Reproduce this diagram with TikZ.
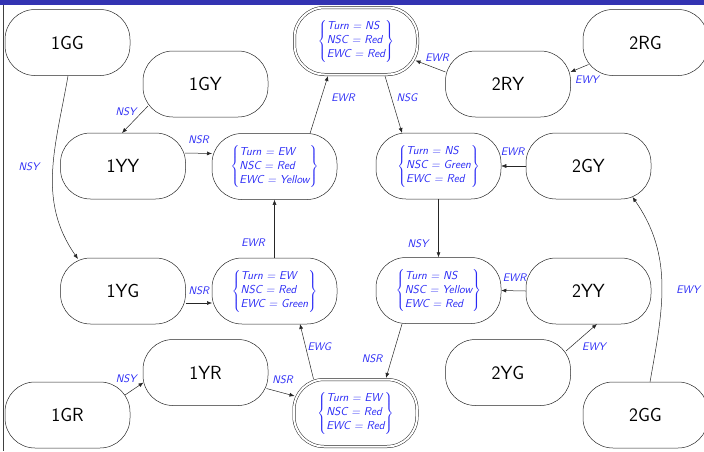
\documentclass[tikz,border=0pt]{standalone}
\usepackage{fontspec}
\usetikzlibrary{calc,arrows.meta}
\definecolor{tblue}{RGB}{40,40,245}
\definecolor{barblue}{RGB}{51,51,178}
\newcommand{\stv}[3]{$\left\{\begin{tabular}{@{}l@{}}Turn = #1\\NSC = #2\\EWC = #3\end{tabular}\right\}$}
\tikzset{
 st/.style={draw=black!85, line width=0.5pt, rounded corners=30pt, minimum width=125pt, minimum height=66pt, inner sep=0pt, font=\sffamily\fontsize{19}{22}\selectfont},
 cst/.style={st, text=tblue, font=\sffamily\itshape\fontsize{11.5}{13.8}\selectfont},
 dst/.style={cst, double, double distance=2pt, minimum width=123pt, minimum height=67pt, rounded corners=30pt},
 tr/.style={draw=black!85, line width=0.5pt, -{Latex[length=5pt,width=4pt]}},
 lbl/.style={text=tblue, font=\sffamily\itshape\fontsize{11}{13}\selectfont, inner sep=0pt},
}
\begin{document}
\begin{tikzpicture}[x=1pt,y=1pt]
\useasboundingbox (0,0) rectangle (704,-451);
\fill[barblue] (0,0) rectangle (704,-5);
\draw[black!75, line width=0.8pt] (3.5,-5) -- (3.5,-451);
% states
\node[st] (1GG) at (67.5,-42.5) {1GG};
\node[st] (1GY) at (205.5,-84) {1GY};
\node[st] (1YY) at (123,-166) {1YY};
\node[st] (1YG) at (123,-291) {1YG};
\node[st] (1YR) at (205.5,-372.5) {1YR};
\node[st] (1GR) at (67.5,-415) {1GR};
\node[dst] (ns1) at (356,-41) {\stv{NS}{Red}{Red}};
\node[cst] (ewy) at (274.5,-166.5) {\stv{EW}{Red}{Yellow}};
\node[cst] (ewg) at (274.5,-291) {\stv{EW}{Red}{Green}};
\node[dst] (ew2) at (355.5,-413) {\stv{EW}{Red}{Red}};
\node[cst] (nsg) at (438.5,-166) {\stv{NS}{Green}{Red}};
\node[cst] (nsyr) at (438.5,-290.5) {\stv{NS}{Yellow}{Red}};
\node[st] (2RG) at (645.5,-42.5) {2RG};
\node[st] (2RY) at (508,-84) {2RY};
\node[st] (2GY) at (588.5,-166) {2GY};
\node[st] (2YY) at (588.5,-291) {2YY};
\node[st] (2YG) at (508,-372.5) {2YG};
\node[st] (2GG) at (645.5,-415) {2GG};
% transitions
\draw[tr] ($(1GG.center)+(0.5,-33.5)$) to[out=-100,in=125] node[lbl,midway,xshift=-24,yshift=5] {NSY} ($(1YG.center)+(-45,32)$);
\draw[tr] ($(1GY.center)+(-57.5,-22)$) -- node[lbl,midway,xshift=-9,yshift=7.5] {NSY} ($(1YY.center)+(-1,33)$);
\draw[tr] ($(1YY.center)+(62,13)$) -- node[lbl,midway,yshift=14] {NSR} ($(ewy.center)+(-62.5,13)$);
\draw[tr] ($(ewy.center)+(35.5,33)$) -- node[lbl,midway,xshift=24,yshift=7.5] {EWR} ($(ns1.center)+(-28,-35)$);
\draw[tr] ($(ns1.center)+(29,-35)$) -- node[lbl,midway,xshift=13.5,yshift=6.5] {NSG} ($(nsg.center)+(-36.5,33)$);
\draw[tr] ($(2RY.center)+(-62.5,12)$) -- node[lbl,midway,xshift=6.5,yshift=9] {EWR} ($(ns1.center)+(59.5,-19.5)$);
\draw[tr] ($(2RG.center)+(-57,-22)$) -- node[lbl,midway,xshift=7.5,yshift=-11.5] {EWY} ($(2RY.center)+(62.5,12)$);
\draw[tr] (2GY.west) -- node[lbl,midway,xshift=-1,yshift=14] {EWR} (nsg.east);
\draw[tr] (ewg.north) -- node[lbl,midway,xshift=-21.5,yshift=-14] {EWR} (ewy.south);
\draw[tr] (nsg.south) -- node[lbl,midway,xshift=-20.5,yshift=-15] {NSY} (nsyr.north);
\draw[tr] ($(1YG.center)+(62.5,-12)$) -- node[lbl,midway,yshift=12] {NSR} ($(ewg.center)+(-62.5,-12)$);
\draw[tr] (2YY.west) -- node[lbl,midway,xshift=1,yshift=13.5] {EWR} (nsyr.east);
\draw[tr] ($(2YG.center)+(58,21.5)$) -- node[lbl,midway,xshift=12.5,yshift=-9] {EWY} ($(2YY.center)+(8.5,-33)$);
\draw[tr] ($(2GG.center)+(4.5,33)$) to[out=80,in=-55] node[lbl,midway,xshift=26.5,yshift=-5] {EWY} ($(2GY.center)+(44,-31)$);
\draw[tr] ($(1GR.center)+(57.5,20)$) -- node[lbl,midway,xshift=-8,yshift=10] {NSY} ($(1YR.center)+(-62,-10)$);
\draw[tr] ($(1YR.center)+(61,-16)$) -- node[lbl,midway,xshift=2,yshift=12.5] {NSR} ($(ew2.center)+(-61,17)$);
\draw[tr] ($(ew2.center)+(-42,34)$) -- node[lbl,midway,xshift=12.5,yshift=5] {EWG} ($(ewg.center)+(25.5,-33)$);
\draw[tr] ($(nsyr.center)+(-36.5,-33.5)$) -- node[lbl,midway,xshift=-22,yshift=-7.5] {NSR} ($(ew2.center)+(30.5,35)$);
\end{tikzpicture}
\end{document}
